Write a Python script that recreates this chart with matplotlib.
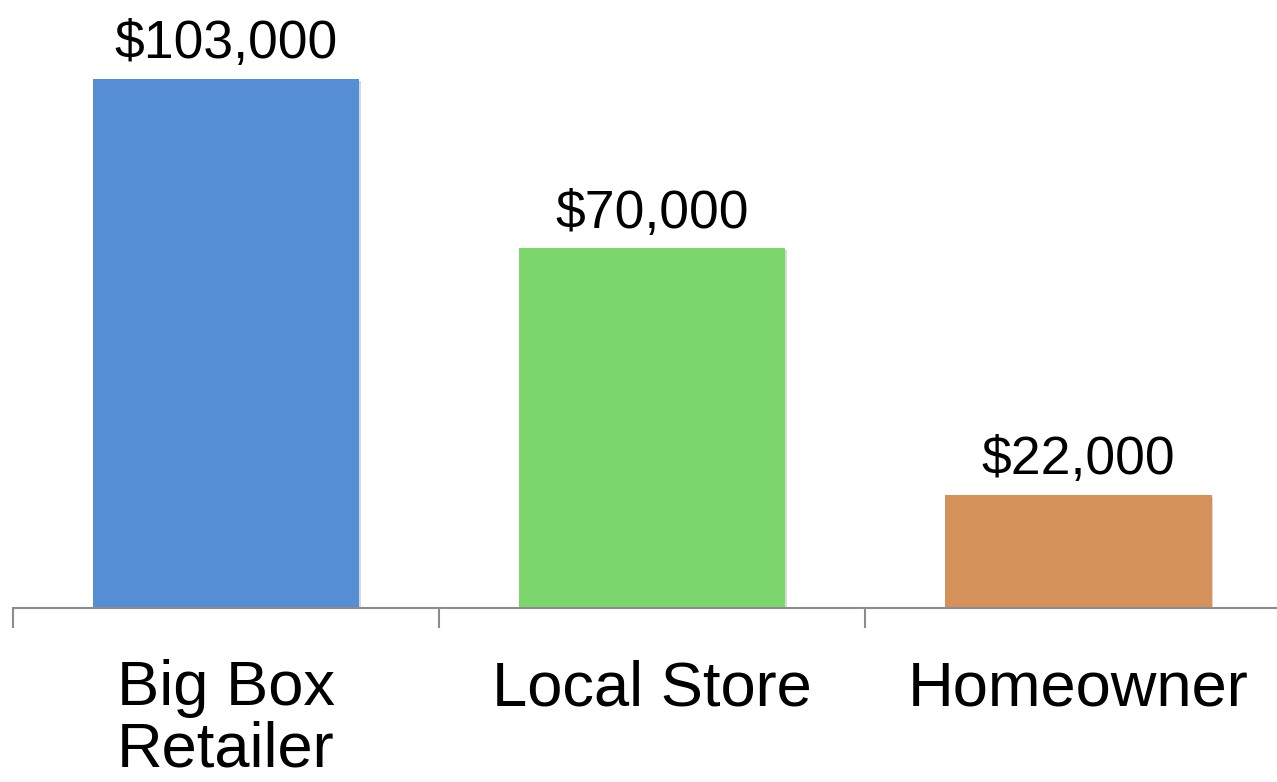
import matplotlib

matplotlib.use("Agg")
import matplotlib.patheffects as pe
import matplotlib.pyplot as plt
import numpy as np

categories = ["Big Box\nRetailer", "Local Store", "Homeowner"]
values = [103000, 70000, 22000]
value_labels = ["$103,000", "$70,000", "$22,000"]
colors = ["#558ED5", "#7BD66B", "#D4925A"]

plt.rcParams["font.family"] = ["Liberation Sans", "DejaVu Sans"]

fig = plt.figure(figsize=(12.77, 7.82), dpi=100)
# axes spans a bit past the right edge, like the original slide chart
ax = fig.add_axes([12.7 / 1277, 174 / 782, 1279 / 1277, 529 / 782])

x = np.arange(len(categories))
bars = ax.bar(x, values, width=0.625, color=colors, zorder=2)
for b in bars:
    b.set_path_effects([pe.SimplePatchShadow(offset=(1.2, -1.2), alpha=0.18), pe.Normal()])
for xi, v, lab in zip(x, values, value_labels):
    ax.annotate(lab, (xi, v), xytext=(0, 15), textcoords="offset points",
                ha="center", va="baseline", fontsize=38.5)

ax.set_xlim(-0.5, 2.5)
ax.set_ylim(0, 103000)
ax.set_yticks([])
for side in ["left", "right", "top"]:
    ax.spines[side].set_visible(False)
ax.spines["bottom"].set_color("#8c8c8c")
ax.spines["bottom"].set_linewidth(1.5)
ax.spines["bottom"].set_zorder(3)

ax.set_xticks(x)
ax.set_xticklabels(categories, fontsize=45.5, linespacing=1.05)
ax.set_xticks(np.arange(-0.5, 3.0, 1.0), minor=True)
ax.tick_params(axis="x", which="major", length=0, pad=37)
ax.tick_params(axis="x", which="minor", length=14.5, width=1.5, color="#8c8c8c")

fig.savefig("out.png", dpi=100)
